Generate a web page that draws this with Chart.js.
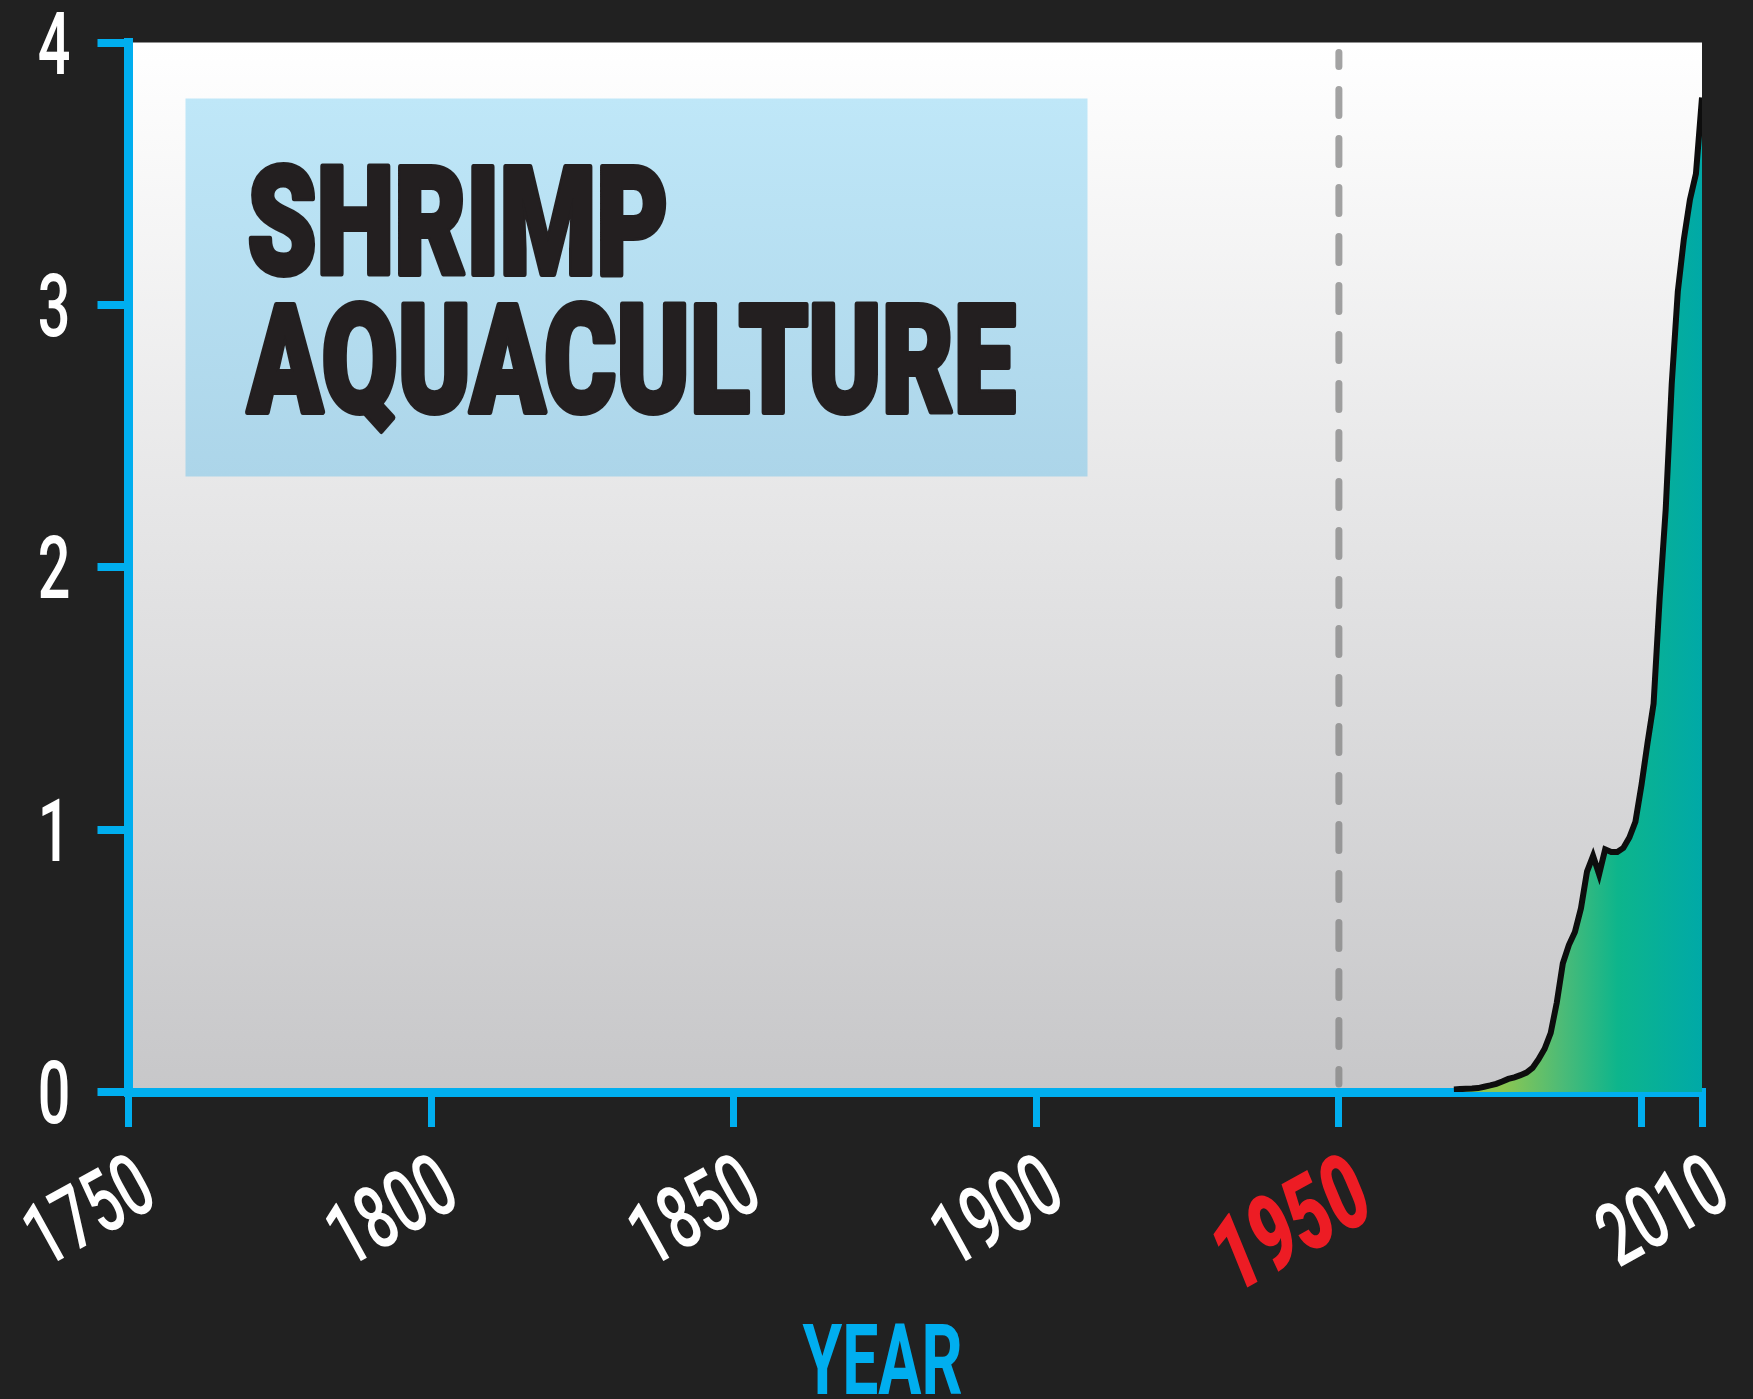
<!DOCTYPE html>
<html>
<head>
<meta charset="utf-8">
<script src="https://cdn.jsdelivr.net/npm/chart.js@4.4.1/dist/chart.umd.min.js"></script>
<style>
  html, body { margin: 0; background: #212121; }
  canvas { display: block; }
</style>
</head>
<body>
<canvas id="shrimp" width="1753" height="1399"></canvas>
<script>
// farmed shrimp output, million tonnes
const years = [1969, 1970, 1971, 1972, 1973, 1974, 1975, 1976, 1977, 1978,
  1979, 1980, 1981, 1982, 1983, 1984, 1985, 1986, 1987, 1988,
  1989, 1990, 1991, 1992, 1993, 1994, 1995, 1996, 1997, 1998,
  1999, 2000, 2001, 2002, 2003, 2004, 2005, 2006, 2007, 2008,
  2009, 2010];
const tonnes = [0.010, 0.011, 0.012, 0.013, 0.015, 0.020, 0.025, 0.031, 0.040, 0.050,
  0.056, 0.064, 0.074, 0.092, 0.125, 0.165, 0.225, 0.34, 0.49, 0.56,
  0.61, 0.70, 0.84, 0.90, 0.83, 0.925, 0.915, 0.915, 0.93, 0.97,
  1.03, 1.17, 1.33, 1.48, 1.88, 2.22, 2.70, 3.05, 3.25, 3.40,
  3.50, 3.79];

const yearTicks = [1750, 1800, 1850, 1900, 1950, 2000, 2010];
const yearLabels = ['1750', '1800', '1850', '1900', '1950', '', '2010'];
const valueTicks = [0, 1, 2, 3, 4];
const titleLines = ['SHRIMP', 'AQUACULTURE'];
const axisName = 'YEAR';
const markYear = 1950;

const BLUE = '#00aeef';
const FONT = 'Roboto, "DejaVu Sans", sans-serif';

function squeezed(ctx, text, x, y, sx, stroke) {
  ctx.save();
  ctx.translate(x, y);
  ctx.scale(sx, 1);
  if (stroke) {
    ctx.lineWidth = stroke;
    ctx.lineJoin = 'round';
    ctx.strokeStyle = ctx.fillStyle;
    ctx.strokeText(text, 0, 0);
  }
  ctx.fillText(text, 0, 0);
  ctx.restore();
}

const decor = {
  id: 'decor',
  beforeDraw(chart) {
    const {ctx, chartArea: a} = chart;
    const g = ctx.createLinearGradient(0, a.top, 0, a.bottom);
    g.addColorStop(0, '#ffffff');
    g.addColorStop(1, '#c7c7c9');
    ctx.save();
    ctx.fillStyle = g;
    ctx.fillRect(a.left, a.top, a.right - a.left, a.bottom - a.top);
    ctx.restore();
  },
  beforeDatasetsDraw(chart) {
    const {ctx, chartArea: a, scales} = chart;
    ctx.save();

    // 1950 marker
    const mx = scales.x.getPixelForValue(markYear);
    ctx.strokeStyle = 'rgba(128,128,128,0.72)';
    ctx.lineWidth = 7;
    ctx.lineCap = 'round';
    ctx.setLineDash([26, 23]);
    ctx.lineDashOffset = 12;
    ctx.beginPath();
    ctx.moveTo(mx, a.top + 10);
    ctx.lineTo(mx, a.bottom - 8);
    ctx.stroke();
    ctx.setLineDash([]);

    // title panel
    const bx = a.left + 57, by = a.top + 56, bw = 902, bh = 378;
    const pg = ctx.createLinearGradient(0, by, 0, by + bh);
    pg.addColorStop(0, '#bfe7f8');
    pg.addColorStop(1, '#acd5e9');
    ctx.fillStyle = pg;
    ctx.fillRect(bx, by, bw, bh);

    ctx.fillStyle = '#231f20';
    ctx.font = '900 150px ' + FONT;
    ctx.textAlign = 'left';
    ctx.textBaseline = 'alphabetic';
    const sx = 768 / ctx.measureText(titleLines[1]).width;
    squeezed(ctx, titleLines[0], bx + 62, by + 175, sx, 6);
    squeezed(ctx, titleLines[1], bx + 62, by + 313, sx, 6);
    ctx.restore();
  },
  afterDraw(chart) {
    const {ctx, scales} = chart;
    const xs = scales.x, ys = scales.y;
    ctx.save();
    ctx.textBaseline = 'alphabetic';

    // value labels
    ctx.fillStyle = '#ffffff';
    ctx.font = '500 87px ' + FONT;
    ctx.textAlign = 'right';
    ys.ticks.forEach(t => {
      squeezed(ctx, String(t.value), ys.right - 58, ys.getPixelForValue(t.value) + 31, 0.66);
    });

    // year labels, tilted
    const ang = -29 * Math.PI / 180;
    xs.ticks.forEach((t, i) => {
      const label = yearLabels[i];
      if (!label) return;
      const hot = t.value === markYear;
      ctx.save();
      ctx.translate(xs.getPixelForValue(t.value) + (hot ? 4 : 2), xs.top + 58);
      ctx.rotate(ang);
      ctx.scale(hot ? 0.7 : 0.66, 1);
      ctx.fillStyle = hot ? '#ed1c24' : '#ffffff';
      ctx.font = (hot ? 'italic 900 104px ' : '500 88px ') + FONT;
      ctx.textAlign = 'right';
      ctx.fillText(label, 0, hot ? 74 : 62);
      ctx.restore();
    });

    // axis name
    ctx.fillStyle = BLUE;
    ctx.font = 'bold 99px ' + FONT;
    ctx.textAlign = 'center';
    const nsx = 160 / ctx.measureText(axisName).width;
    squeezed(ctx, axisName, chart.width / 2 + 6, xs.top + 302, nsx);
    ctx.restore();
  }
};

new Chart(document.getElementById('shrimp'), {
  type: 'line',
  data: {
    datasets: [{
      data: years.map((y, i) => ({x: y, y: tonnes[i]})),
      borderColor: '#0d0d0d',
      borderWidth: 6,
      pointRadius: 0,
      tension: 0,
      fill: 'origin',
      backgroundColor(c) {
        const {ctx, chartArea, scales} = c.chart;
        if (!chartArea) return 'transparent';
        const g = ctx.createLinearGradient(scales.x.getPixelForValue(1977), 0,
          scales.x.getPixelForValue(2010), 0);
        g.addColorStop(0, '#8cc751');
        g.addColorStop(0.3, '#4cbb77');
        g.addColorStop(0.58, '#0db58c');
        g.addColorStop(1, '#00a9a7');
        return g;
      }
    }]
  },
  options: {
    responsive: false,
    devicePixelRatio: 1,
    animation: false,
    layout: { padding: { left: 0, top: 42.5, right: 51, bottom: 0 } },
    plugins: { legend: { display: false }, tooltip: { enabled: false } },
    scales: {
      x: {
        type: 'linear',
        min: 1750,
        max: 2010,
        z: 1,
        afterBuildTicks(s) { s.ticks = yearTicks.map(v => ({value: v})); },
        afterFit(s) { s.height = 307; },
        ticks: { display: false },
        grid: { drawOnChartArea: false, tickLength: 35, tickWidth: 7, tickColor: BLUE, color: BLUE, lineWidth: 7 },
        border: { color: BLUE, width: 9 }
      },
      y: {
        min: 0,
        max: 4,
        z: 1,
        afterBuildTicks(s) { s.ticks = valueTicks.map(v => ({value: v})); },
        afterFit(s) { s.width = 128.5; },
        ticks: { display: false },
        grid: { drawOnChartArea: false, tickLength: 31, tickWidth: 8, tickColor: BLUE, color: BLUE, lineWidth: 8 },
        border: { color: BLUE, width: 9 }
      }
    }
  },
  plugins: [decor]
});
</script>
</body>
</html>
